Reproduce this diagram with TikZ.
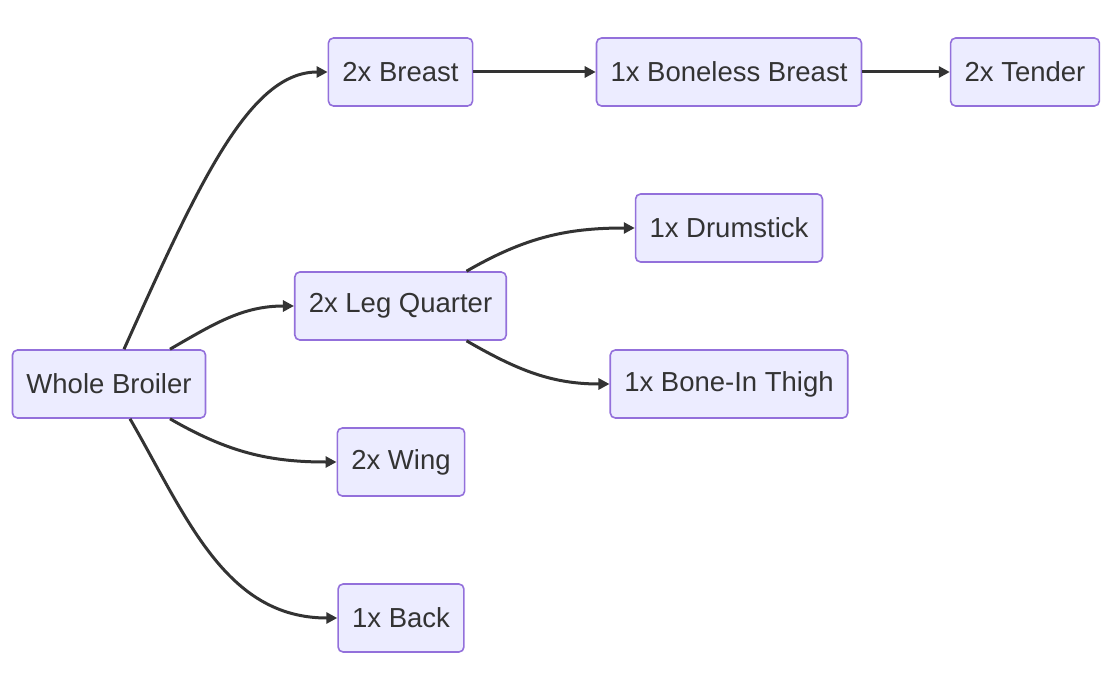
\documentclass[tikz,border=0pt]{standalone}
\usepackage{fontspec}
\setmainfont{Liberation Sans}
\usepackage{xcolor}
\usetikzlibrary{arrows.meta}
\definecolor{boxfill}{HTML}{ECECFF}
\definecolor{boxline}{HTML}{9370DB}
\definecolor{txtcol}{HTML}{333333}
\tikzset{
  cut/.style={draw=boxline,fill=boxfill,line width=1.6pt,rounded corners=5pt,
    minimum height=68pt,inner xsep=14pt,text=txtcol,
    font=\fontsize{27.5}{32}\selectfont},
  flow/.style={draw=txtcol,line width=3pt,-{Triangle[length=11pt,width=11pt]}}
}
\begin{document}
\begin{tikzpicture}[x=1pt,y=1pt,yscale=-1,xscale=1]

\useasboundingbox (0,0) rectangle (1113,682);

\node[cut] (wb) at (109,384) {Whole Broiler};

\node[cut] (breast) at (400.5,72) {2x Breast};

\node[cut] (boneless) at (729,72) {1x Boneless Breast};

\node[cut] (tender) at (1025,72) {2x Tender};

\node[cut] (leg) at (400.5,306) {2x Leg Quarter};

\node[cut] (drum) at (729,228) {1x Drumstick};

\node[cut] (thigh) at (729,384) {1x Bone-In Thigh};

\node[cut] (wing) at (401,462) {2x Wing};

\node[cut] (back) at (401,618) {1x Back};

\draw[flow] ([xshift=15]wb.north) .. controls (200,180) and (250,72) .. (breast.west);

\draw[flow] ([xshift=61]wb.north) to[out=-30,in=180] (leg.west);

\draw[flow] ([xshift=61]wb.south) to[out=30,in=180] (wing.west);

\draw[flow] ([xshift=21]wb.south) to[out=60,in=180] (back.west);

\draw[flow] (breast) -- (boneless);

\draw[flow] (boneless) -- (tender);

\draw[flow] ([xshift=66]leg.north) to[out=-30,in=180] (drum.west);

\draw[flow] ([xshift=66]leg.south) to[out=30,in=180] (thigh.west);

\end{tikzpicture}
\end{document}
